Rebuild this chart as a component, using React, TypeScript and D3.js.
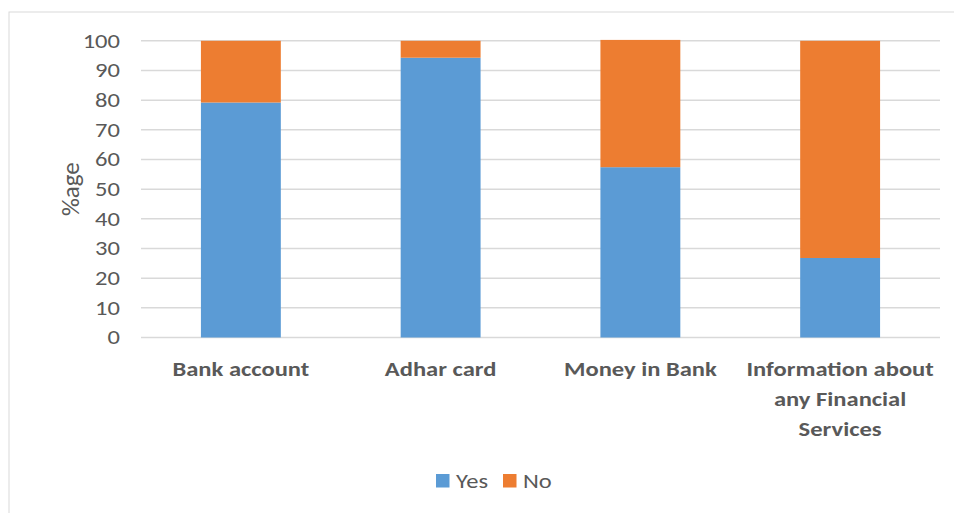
import React from "react";
import * as d3 from "d3";

const categories: string[][] = [
  ["Bank account"],
  ["Adhar card"],
  ["Money in Bank"],
  ["Information about", "any Financial", "Services"],
];
const categoryKeys = ["Bank account", "Adhar card", "Money in Bank", "Information about any Financial Services"];
const yesValues = [79.2, 94.3, 57.4, 26.8];
const noValues = [20.8, 5.7, 42.9, 73.2];
const seriesNames = ["Yes", "No"];
const seriesColors = ["#5b9bd5", "#ed7d31"];
const yTicks = [0, 10, 20, 30, 40, 50, 60, 70, 80, 90, 100];
const yLabel = "%age";

const W = 954;
const H = 513;
const font = "Carlito, Calibri, 'Liberation Sans Narrow', 'Open Sans', sans-serif";
const SX = 1.26;

function T(props: {
  x: number;
  y: number;
  anchor?: "start" | "middle" | "end";
  size?: number;
  bold?: boolean;
  children: React.ReactNode;
}) {
  return (
    <g transform={`translate(${props.x},${props.y}) scale(${SX},1)`}>
      <text
        x={0}
        y={0}
        dy="0.35em"
        textAnchor={props.anchor || "start"}
        fontFamily={font}
        fontSize={props.size || 19.5}
        fontWeight={props.bold ? "bold" : "normal"}
        fill="#595959"
      >
        {props.children}
      </text>
    </g>
  );
}

export default function App() {
  const x = d3.scaleBand<string>().domain(categoryKeys).range([141, 940]).paddingInner(0.6).paddingOuter(0.3);
  const y = d3.scaleLinear().domain([0, 100]).range([337.5, 40.8]);

  const rows = categoryKeys.map((k, i) => ({ key: k, Yes: yesValues[i], No: noValues[i] }));
  const stack = d3.stack<any>().keys(seriesNames)(rows);

  return (
    <svg width={W} height={H} style={{ position: "absolute", left: 0, top: 0, background: "#fff" }}>
      <rect x={9} y={12} width={1000} height={600} fill="#fff" stroke="#d9d9d9" strokeWidth={1} />
      {yTicks.map((t) => (
        <g key={t}>
          <line x1={141} x2={940} y1={y(t)} y2={y(t)} stroke="#d9d9d9" strokeWidth={1.5} />
          <T x={120} y={y(t)} anchor="end">
            {t}
          </T>
        </g>
      ))}
      <text
        transform={`translate(70,${y(50)}) rotate(-90)`}
        dy="0.35em"
        textAnchor="middle"
        fontFamily={font}
        fontSize={25}
        fill="#595959"
      >
        {yLabel}
      </text>
      {stack.map((s, si) => (
        <g key={s.key} fill={seriesColors[si]}>
          {s.map((d, i) => (
            <rect
              key={i}
              x={x(categoryKeys[i])!}
              width={x.bandwidth()}
              y={y(d[1])}
              height={y(d[0]) - y(d[1])}
            />
          ))}
        </g>
      ))}
      {categories.map((lines, i) =>
        lines.map((l, j) => (
          <T key={i + "-" + j} x={x(categoryKeys[i])! + x.bandwidth() / 2} y={369 + j * 30} anchor="middle" bold>
            {l}
          </T>
        ))
      )}
      {seriesNames.map((n, i) => {
        const lx = i === 0 ? 436 : 503;
        return (
          <g key={n}>
            <rect x={lx} y={474} width={13.5} height={13.5} fill={seriesColors[i]} />
            <T x={lx + 20} y={481}>
              {n}
            </T>
          </g>
        );
      })}
    </svg>
  );
}
